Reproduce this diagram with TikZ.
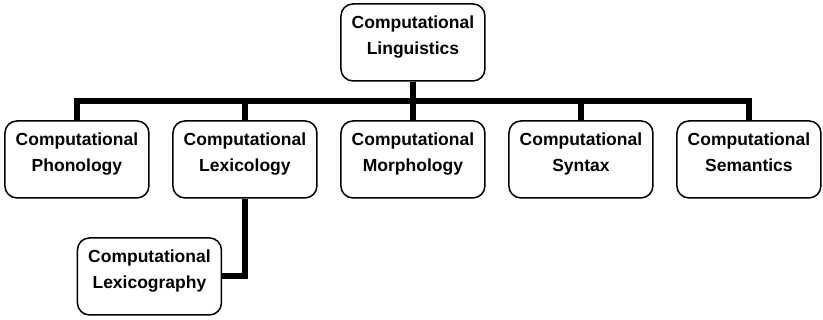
\documentclass[tikz,border=0pt]{standalone}
\usepackage{fontspec}
\setmainfont{Liberation Sans}
\usetikzlibrary{matrix,positioning}

\tikzset{
  topic/.style={draw, line width=1.5pt, rounded corners=12pt, fill=white,
                text width=130pt, inner xsep=7pt, inner ysep=10pt,
                align=center, text height=15pt, text depth=42pt,
                font=\bfseries\fontsize{17.5}{25.5}\selectfont},
  wire/.style={line width=6pt}
}

\begin{document}
\begin{tikzpicture}
  \useasboundingbox (0,0) rectangle (823pt,-320pt);
  \matrix (m) [matrix of nodes, ampersand replacement=\&,
               nodes={topic}, inner sep=0pt,
               anchor=north west, row sep=38.5pt, column sep=22.5pt]
    at (4pt,-3pt) {
    \& \& {Computational\\Linguistics} \& \& \\
    {Computational\\Phonology} \& {Computational\\Lexicology}
      \& {Computational\\Morphology} \& {Computational\\Syntax}
      \& {Computational\\Semantics} \\
  };
  \node[topic, below=38.5pt of m-2-2, xshift=-95.5pt] (lexgr)
    {Computational\\Lexicography};

  \path (m-1-3.south) -- coordinate (bus) (m-2-3.north);
  \draw[wire] (m-2-1.north) |- (bus -| m-2-5.north) -- (m-2-5.north);
  \foreach \c in {2,3,4}
    \draw[wire] (m-2-\c.north) -- (bus -| m-2-\c.north);
  \draw[wire] (m-1-3.south) -- (m-2-3.north);
  \draw[wire] (m-2-2.south) |- (lexgr.east);
\end{tikzpicture}
\end{document}
